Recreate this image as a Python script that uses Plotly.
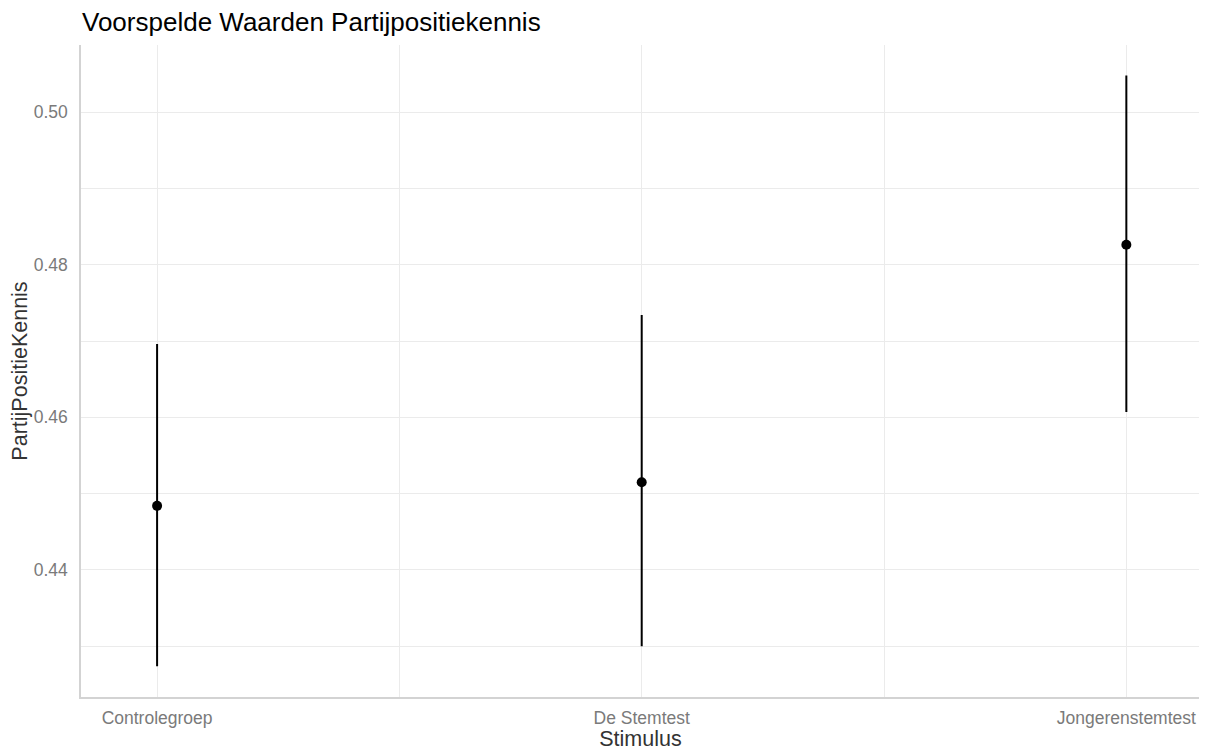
import plotly.graph_objects as go

categories = ["Controlegroep", "De Stemtest", "Jongerenstemtest"]
predicted = [0.4484, 0.4515, 0.4826]
ci_low = [0.4274, 0.4300, 0.4607]
ci_high = [0.4696, 0.4734, 0.5048]

x_idx = list(range(len(categories)))
err_plus = [h - p for h, p in zip(ci_high, predicted)]
err_minus = [p - l for p, l in zip(predicted, ci_low)]

fig = go.Figure()
fig.add_trace(go.Scatter(
    x=x_idx, y=predicted, mode="markers",
    marker=dict(color="black", size=10),
    error_y=dict(type="data", symmetric=False, array=err_plus, arrayminus=err_minus,
                 color="black", thickness=2, width=0),
    showlegend=False, hoverinfo="skip",
))

W, H = 1192, 743
grid = "#EBEBEB"
fig.update_layout(
    width=W, height=H,
    paper_bgcolor="white", plot_bgcolor="white",
    margin=dict(l=73, r=0, t=37, b=54, autoexpand=False),
    font=dict(family="Liberation Sans, Arial, sans-serif", color="#4D4D4D"),
    title=dict(text="Voorspelde Waarden Partijpositiekennis", x=74/W, xanchor="left",
               y=1-14/H, yanchor="middle",
               font=dict(size=26, color="black")),
)
fig.update_xaxes(
    range=[-0.157, 2.152], tickvals=x_idx, ticktext=categories,
    showgrid=True, gridcolor=grid, gridwidth=1,
    minor=dict(dtick=0.5, tick0=0, showgrid=True, gridcolor=grid, gridwidth=1),
    zeroline=False, showline=True, linecolor="#D3D3D3", linewidth=1.5,
    ticks="", ticklabelstandoff=4, automargin=False,
    tickfont=dict(size=17.5, color="#7A7A7A"),
    title=dict(text="Stimulus", font=dict(size=21.5, color="#333333"), standoff=20),
)
fig.update_yaxes(
    range=[0.42336, 0.50878], tickvals=[0.44, 0.46, 0.48, 0.50],
    ticktext=["0.44", "0.46", "0.48", "0.50"],
    showgrid=True, gridcolor=grid, gridwidth=1,
    minor=dict(dtick=0.01, tick0=0.43, showgrid=True, gridcolor=grid, gridwidth=1),
    zeroline=False, showline=True, linecolor="#D3D3D3", linewidth=1.5,
    ticks="", ticklabelstandoff=8, automargin=False,
    tickfont=dict(size=17.5, color="#7A7A7A"),
    title=dict(text="PartijPositieKennis", font=dict(size=21.5, color="#333333"), standoff=3),
)

fig.write_html("out.html")
